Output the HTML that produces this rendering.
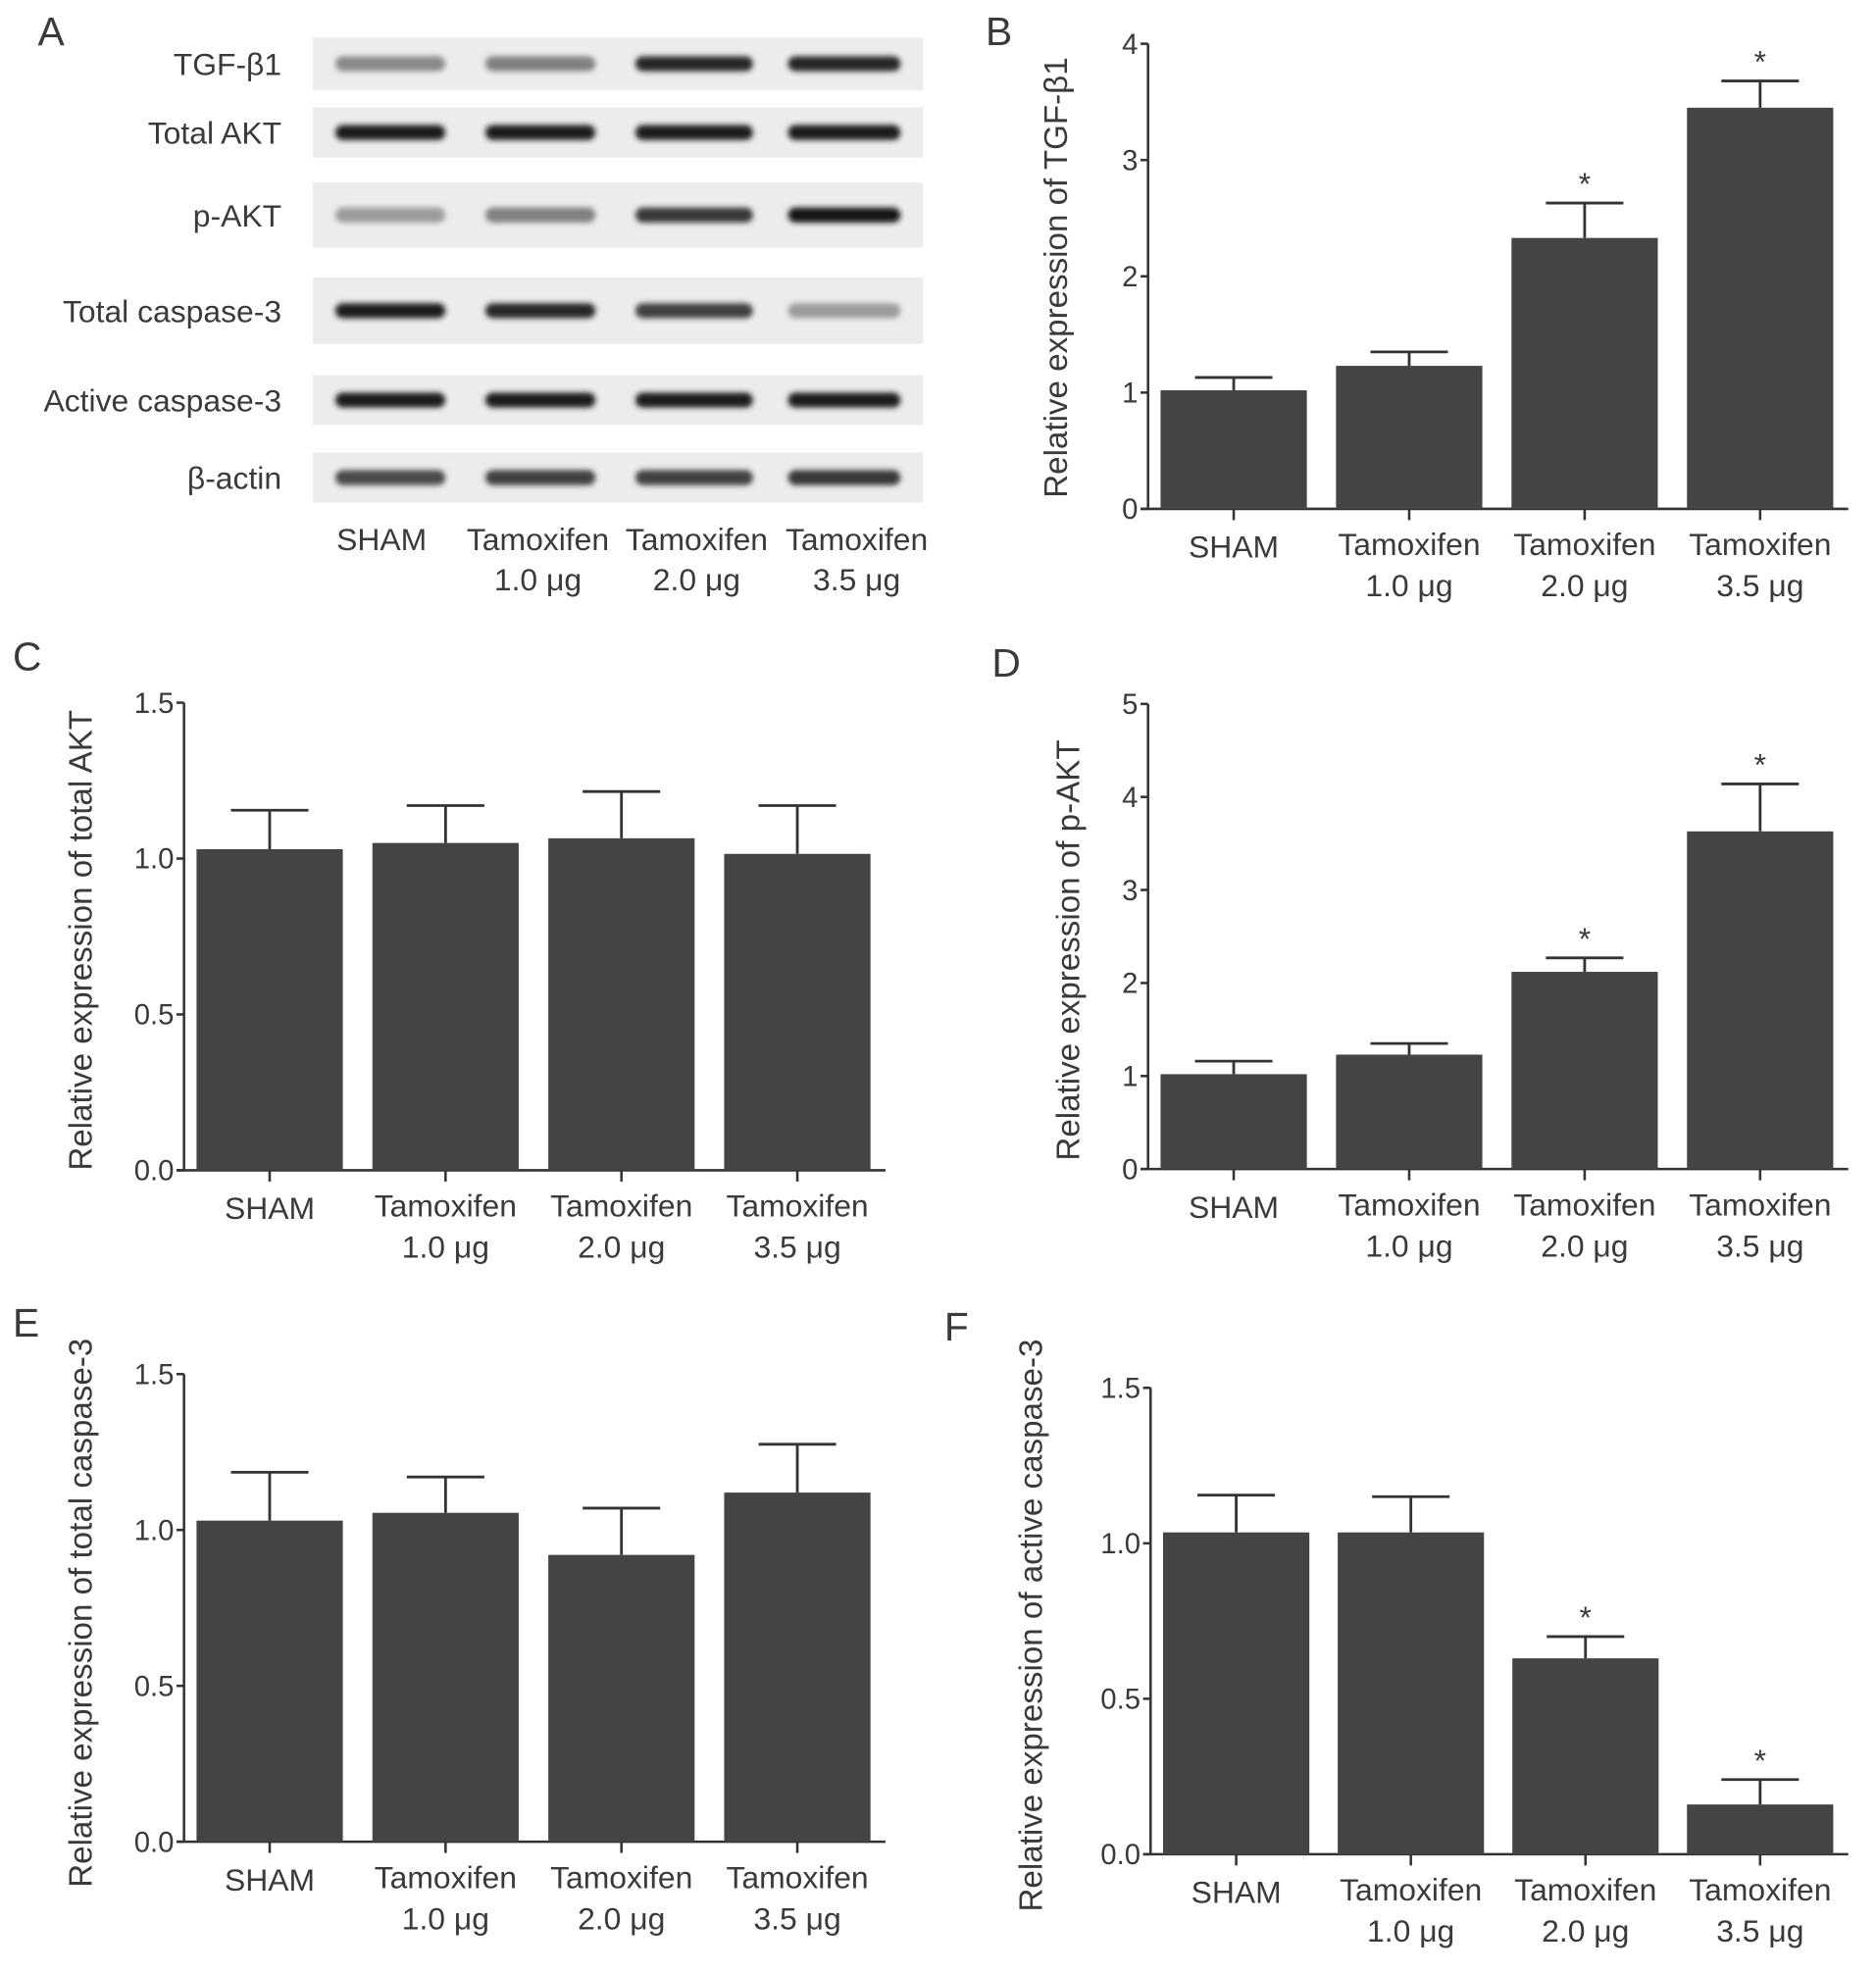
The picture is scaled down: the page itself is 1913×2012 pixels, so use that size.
<!DOCTYPE html>
<html><head><meta charset="utf-8"><style>
html,body{margin:0;padding:0;background:#fff;}
svg{display:block;}
text{font-family:"Liberation Sans",sans-serif;fill:#3a3a3a;}
</style></head><body>
<svg id="fig" width="1913" height="2012" viewBox="0 0 1500 1578" xmlns="http://www.w3.org/2000/svg">
<defs><filter id="blur" x="-20%" y="-100%" width="140%" height="300%"><feGaussianBlur stdDeviation="2.2"/></filter></defs>
<g id="blot"></g>
<g id="charts"></g>
</svg>
<script>
// ---- Chart data ----
const categories = ["SHAM", "Tamoxifen|1.0 μg", "Tamoxifen|2.0 μg", "Tamoxifen|3.5 μg"];
const tgfValues = [1.02, 1.23, 2.33, 3.45];
const tgfErrors = [0.11, 0.12, 0.30, 0.23];
const tgfStars = [false, false, true, true];
const tgfTicks = ["0", "1", "2", "3", "4"];
const aktValues = [1.03, 1.05, 1.065, 1.015];
const aktErrors = [0.125, 0.12, 0.15, 0.155];
const aktStars = [false, false, false, false];
const aktTicks = ["0.0", "0.5", "1.0", "1.5"];
const paktValues = [1.02, 1.23, 2.12, 3.63];
const paktErrors = [0.14, 0.12, 0.15, 0.51];
const paktStars = [false, false, true, true];
const paktTicks = ["0", "1", "2", "3", "4", "5"];
const casValues = [1.03, 1.055, 0.92, 1.12];
const casErrors = [0.155, 0.115, 0.15, 0.155];
const casStars = [false, false, false, false];
const casTicks = ["0.0", "0.5", "1.0", "1.5"];
const actValues = [1.035, 1.035, 0.63, 0.16];
const actErrors = [0.12, 0.115, 0.07, 0.08];
const actStars = [false, false, true, true];
const actTicks = ["0.0", "0.5", "1.0", "1.5"];
// blot band intensities (0 light - 1 dark)
const blotRows = ["TGF-β1", "Total AKT", "p-AKT", "Total caspase-3", "Active caspase-3", "β-actin"];
const blotIntensity = [[0.35,0.4,0.9,0.9],[0.95,0.95,0.95,0.95],[0.25,0.4,0.8,0.97],[0.95,0.9,0.75,0.25],[0.95,0.95,0.95,0.95],[0.7,0.75,0.75,0.8]];

const NS = "http://www.w3.org/2000/svg";
function mk(tag, attrs, parent, txt){
  const e = document.createElementNS(NS, tag);
  for (const k in attrs) e.setAttribute(k, attrs[k]);
  if (txt !== undefined) e.textContent = txt;
  parent.appendChild(e);
  return e;
}
const fig = document.getElementById('fig');
const charts = document.getElementById('charts');

// ---- Panel letters ----
const letters = [["A",30,36],["B",788,36],["C",10,536],["D",793,541],["E",10,1069],["F",755,1072]];
letters.forEach(l => {
  const t = mk('text', {x:l[1], y:l[2], 'font-size':32, fill:'#222'}, fig, l[0]);
  
  
});

// ---- Blot ----
const blot = document.getElementById('blot');
const rowBoxes = [[30,72],[86,126],[146,198],[222,275],[300,340],[362,402]];
const laneX = [312, 432, 555, 675];
const laneW = [88, 88, 94, 90];
blotRows.forEach((name, r) => {
  const [y0, y1] = rowBoxes[r];
  const g = mk('g', {}, blot);
  
  
  mk('rect', {x:250, y:y0, width:488, height:y1-y0, fill:'#ececec'}, g);
  const cy = (y0+y1)/2;
  laneX.forEach((cx, i) => {
    const v = blotIntensity[r][i];
    const c = Math.round(200 - v*180);
    const b = mk('rect', {x:cx-laneW[i]/2, y:cy-6, width:laneW[i], height:12, rx:6, fill:`rgb(${c},${c},${c})`, filter:'url(#blur)'}, g);
    
    
  });
  const t = mk('text', {x:225, y:cy+9, 'text-anchor':'end', 'font-size':25}, g, name);
  
  
});
const blotLab = [[305,"SHAM",""],[430,"Tamoxifen","1.0 μg"],[557,"Tamoxifen","2.0 μg"],[685,"Tamoxifen","3.5 μg"]];
blotLab.forEach(l => {
  const t = mk('text', {x:l[0], y:440, 'text-anchor':'middle', 'font-size':25}, blot, l[1]);
  
  
  if (l[2]) {
    const t2 = mk('text', {x:l[0], y:472, 'text-anchor':'middle', 'font-size':25}, blot, l[2]);
    
    
  }
});

// ---- Bar charts ----
function barChart(cfg){
  const g = mk('g', {}, charts);
  
  
  const max = parseFloat(cfg.ticks[cfg.ticks.length-1]);
  const y = v => cfg.y0 - v/max*(cfg.y0-cfg.yTop);
  mk('line', {x1:cfg.ax, y1:cfg.yTop, x2:cfg.ax, y2:cfg.y0, stroke:'#333', 'stroke-width':2}, g);
  mk('line', {x1:cfg.ax-6, y1:cfg.y0, x2:cfg.axEnd, y2:cfg.y0, stroke:'#333', 'stroke-width':2}, g);
  cfg.ticks.forEach(tk => {
    const yy = y(parseFloat(tk));
    mk('line', {x1:cfg.ax-6, y1:yy, x2:cfg.ax, y2:yy, stroke:'#333', 'stroke-width':2}, g);
    const t = mk('text', {x:cfg.ax-8, y:yy+8, 'text-anchor':'end', 'font-size':23, fill:'#555'}, g, tk);
    
    
  });
  const tt = mk('text', {transform:`translate(${cfg.titleX},${cfg.titleY}) rotate(-90)`, 'text-anchor':'middle', 'font-size':26, fill:'#555'}, g, cfg.title);
  
  
  const bw = 117;
  const first = cfg.ax + 10;
  const gap = (cfg.axEnd - 12 - first - 4*bw)/3;
  categories.forEach((c, i) => {
    const cx = first + bw/2 + i*(bw + gap);
    const v = cfg.values[i], e = cfg.errors[i];
    const bar = mk('rect', {x:cx-bw/2, y:y(v), width:bw, height:cfg.y0-y(v), fill:'#444'}, g);
    
    
    const eb = mk('path', {d:`M${cx},${y(v)}V${y(v+e)}M${cx-31},${y(v+e)}H${cx+31}`, stroke:'#333', 'stroke-width':2.2, fill:'none'}, g);
    
    
    if (cfg.stars[i]) {
      const s = mk('text', {x:cx, y:y(v+e)-7, 'text-anchor':'middle', 'font-size':25, fill:'#333'}, g, '*');
      
      
    }
    mk('line', {x1:cx, y1:cfg.y0, x2:cx, y2:cfg.y0+9, stroke:'#333', 'stroke-width':2}, g);
    const parts = c.split('|');
    const t1 = mk('text', {x:cx, y:cfg.y0+39 - (parts.length>1?2:0), 'text-anchor':'middle', 'font-size':25, fill:'#555'}, g, parts[0]);
    
    
    if (parts[1]) {
      const t2 = mk('text', {x:cx, y:cfg.y0+70, 'text-anchor':'middle', 'font-size':25, fill:'#555'}, g, parts[1]);
      
      
    }
  });
}
barChart({name:'chart-b-tgf-beta1', values:tgfValues, errors:tgfErrors, stars:tgfStars, ticks:tgfTicks, ax:918, axEnd:1478, y0:407, yTop:35, title:'Relative expression of TGF-β1', titleX:853, titleY:222});
barChart({name:'chart-c-total-akt', values:aktValues, errors:aktErrors, stars:aktStars, ticks:aktTicks, ax:147, axEnd:708, y0:936, yTop:562, title:'Relative expression of total AKT', titleX:73, titleY:752});
barChart({name:'chart-d-p-akt', values:paktValues, errors:paktErrors, stars:paktStars, ticks:paktTicks, ax:918, axEnd:1478, y0:935, yTop:563, title:'Relative expression of p-AKT', titleX:863, titleY:760});
barChart({name:'chart-e-total-caspase3', values:casValues, errors:casErrors, stars:casStars, ticks:casTicks, ax:147, axEnd:708, y0:1473, yTop:1099, title:'Relative expression of total caspase-3', titleX:73, titleY:1290});
barChart({name:'chart-f-active-caspase3', values:actValues, errors:actErrors, stars:actStars, ticks:actTicks, ax:920, axEnd:1478, y0:1483, yTop:1110, title:'Relative expression of active caspase-3', titleX:833, titleY:1300});
</script>
</body></html>
